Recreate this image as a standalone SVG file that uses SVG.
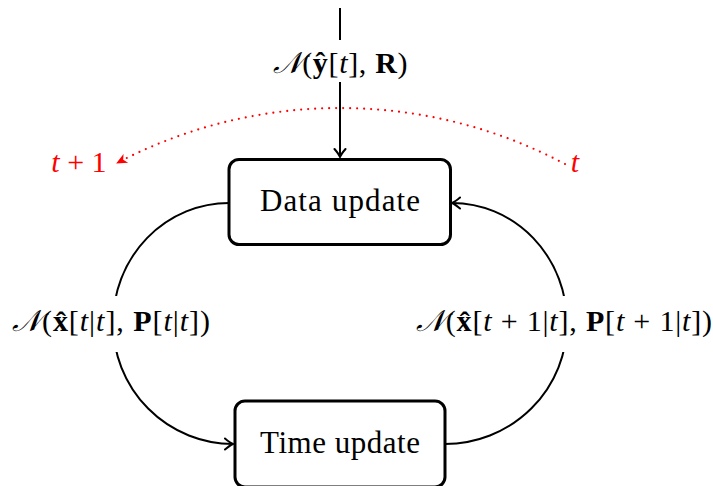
<svg xmlns="http://www.w3.org/2000/svg" width="713" height="486" viewBox="0 0 713 486">
<style>
.box{fill:#fff;stroke:#000;stroke-width:3}
.lbl{font-family:"Liberation Serif","DejaVu Serif",serif;font-size:30px;fill:#000}
.edge{fill:none;stroke:#000;stroke-width:2}
.it{font-style:italic}
.bf{font-weight:bold}
.bg{fill:#fff;stroke:none}
.red{fill:#ff0000}
</style>
<defs>
<marker id="arr" viewBox="-10 -7 12 14" refX="0" refY="0" markerWidth="12" markerHeight="14" orient="auto" markerUnits="userSpaceOnUse">
<path d="M-8,-5.5 Q-3,-1.2 0,0 Q-3,1.2 -8,5.5" fill="none" stroke="#000" stroke-width="2" stroke-linecap="round"/>
</marker>
<marker id="rarr" viewBox="-11 -6 12 12" refX="0" refY="0" markerWidth="12" markerHeight="12" orient="auto" markerUnits="userSpaceOnUse">
<path d="M1,0 L-10,-5 L-7,0 L-10,5 Z" fill="#ff0000"/>
</marker>
</defs>
<g id="connectors">
<path class="edge" d="M340,8 L340,157" marker-end="url(#arr)"/>
<path class="edge" d="M229,203 A116,120 0 0 0 113,323 A120,121 0 0 0 233,444" marker-end="url(#arr)"/>
<path class="edge" d="M445,444 A122,121 0 0 0 567,323 A115,120 0 0 0 452,203" marker-end="url(#arr)"/>
<path d="M565,164 A480,480 0 0 0 117,163" fill="none" stroke="#ff0000" stroke-width="2.2" stroke-linecap="round" stroke-dasharray="0 7" marker-end="url(#rarr)"/>
<g id="label-top">
<rect class="bg" x="266" y="40" width="144" height="42"/>
<text class="lbl" x="340" y="73" text-anchor="middle" textLength="135" lengthAdjust="spacing"><tspan class="it">𝒩</tspan>(<tspan class="bf">ŷ</tspan>[<tspan class="it">t</tspan>], <tspan class="bf">R</tspan>)</text>
</g>
<g id="label-left">
<rect class="bg" x="8" y="296" width="206" height="56"/>
<text class="lbl" x="111" y="331" text-anchor="middle" textLength="198" lengthAdjust="spacing"><tspan class="it">𝒩</tspan>(<tspan class="bf">x̂</tspan>[<tspan class="it">t</tspan>|<tspan class="it">t</tspan>], <tspan class="bf">P</tspan>[<tspan class="it">t</tspan>|<tspan class="it">t</tspan>])</text>
</g>
<g id="label-right">
<rect class="bg" x="412" y="296" width="301" height="56"/>
<text class="lbl" x="564" y="331" text-anchor="middle" textLength="296" lengthAdjust="spacing"><tspan class="it">𝒩</tspan>(<tspan class="bf">x̂</tspan>[<tspan class="it">t</tspan> + 1|<tspan class="it">t</tspan>], <tspan class="bf">P</tspan>[<tspan class="it">t</tspan> + 1|<tspan class="it">t</tspan>])</text>
</g>
<text class="lbl red" x="79" y="172" text-anchor="middle"><tspan class="it">t</tspan> + 1</text>
<text class="lbl red it" x="575" y="172" text-anchor="middle">t</text>
</g>
<g id="data-update">
<rect class="box" x="229" y="159.5" width="221.5" height="85" rx="10"/>
<text class="lbl" x="340" y="211" text-anchor="middle" textLength="160" lengthAdjust="spacing" style="font-size:31px">Data update</text>
</g>
<g id="time-update">
<rect class="box" x="235" y="401" width="210" height="86" rx="10"/>
<text class="lbl" x="340" y="453" text-anchor="middle" textLength="160" lengthAdjust="spacing" style="font-size:31px">Time update</text>
</g>
</svg>
